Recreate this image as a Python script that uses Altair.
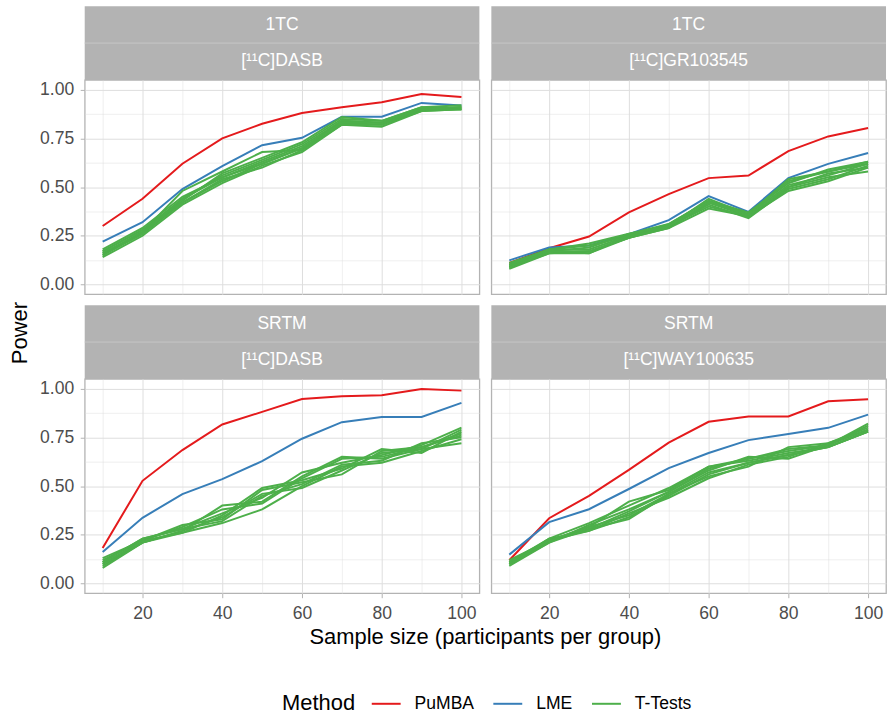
import altair as alt
import pandas as pd

# ---------------- data ----------------
N = [10, 20, 30, 40, 50, 60, 70, 80, 90, 100]
MODELS = ["1TC", "1TC", "SRTM", "SRTM"]
TRACERS = ["[¹¹C]DASB", "[¹¹C]GR103545", "[¹¹C]DASB", "[¹¹C]WAY100635"]
METHODS = ["PuMBA", "LME", "T-Tests"]
COLORS = ["#E41A1C", "#377EB8", "#4DAF4A"]

pumba_A = [0.30, 0.44, 0.62, 0.75, 0.825, 0.88, 0.91, 0.935, 0.978, 0.963]
lme_A = [0.22, 0.32, 0.49, 0.607, 0.715, 0.753, 0.861, 0.861, 0.932, 0.919]
ttest_A = [
    [0.15, 0.27, 0.48, 0.58, 0.68, 0.69, 0.84, 0.83, 0.90, 0.91],
    [0.17, 0.28, 0.44, 0.56, 0.64, 0.72, 0.85, 0.84, 0.91, 0.90],
    [0.16, 0.26, 0.42, 0.53, 0.62, 0.70, 0.83, 0.82, 0.89, 0.90],
    [0.18, 0.29, 0.45, 0.55, 0.63, 0.71, 0.84, 0.83, 0.90, 0.91],
    [0.14, 0.25, 0.41, 0.52, 0.61, 0.68, 0.82, 0.81, 0.89, 0.90],
    [0.16, 0.27, 0.43, 0.57, 0.65, 0.73, 0.86, 0.84, 0.91, 0.92],
    [0.17, 0.28, 0.42, 0.54, 0.60, 0.69, 0.82, 0.82, 0.90, 0.90],
    [0.15, 0.26, 0.44, 0.55, 0.62, 0.70, 0.83, 0.83, 0.90, 0.91],
]

pumba_B = [0.11, 0.186, 0.246, 0.37, 0.464, 0.546, 0.559, 0.685, 0.76, 0.803]
lme_B = [0.124, 0.19, 0.20, 0.258, 0.33, 0.454, 0.373, 0.546, 0.619, 0.675]
ttest_B = [
    [0.09, 0.17, 0.16, 0.24, 0.29, 0.42, 0.35, 0.48, 0.53, 0.60],
    [0.10, 0.18, 0.20, 0.25, 0.30, 0.44, 0.36, 0.54, 0.58, 0.62],
    [0.08, 0.16, 0.17, 0.24, 0.29, 0.39, 0.35, 0.50, 0.55, 0.58],
    [0.10, 0.17, 0.19, 0.26, 0.31, 0.43, 0.37, 0.52, 0.59, 0.63],
    [0.09, 0.16, 0.16, 0.25, 0.30, 0.41, 0.34, 0.49, 0.54, 0.61],
    [0.11, 0.18, 0.18, 0.25, 0.31, 0.43, 0.36, 0.51, 0.56, 0.62],
    [0.09, 0.17, 0.17, 0.24, 0.30, 0.40, 0.35, 0.50, 0.57, 0.60],
    [0.10, 0.18, 0.21, 0.26, 0.30, 0.42, 0.36, 0.53, 0.58, 0.63],
]

pumba_C = [0.182, 0.527, 0.685, 0.816, 0.881, 0.947, 0.961, 0.966, 0.998, 0.99]
lme_C = [0.162, 0.337, 0.459, 0.536, 0.628, 0.743, 0.828, 0.854, 0.855, 0.927]
ttest_C = [
    [0.09, 0.21, 0.27, 0.40, 0.42, 0.55, 0.65, 0.64, 0.69, 0.79],
    [0.12, 0.22, 0.30, 0.33, 0.48, 0.52, 0.56, 0.68, 0.70, 0.77],
    [0.10, 0.21, 0.26, 0.31, 0.38, 0.50, 0.60, 0.62, 0.68, 0.74],
    [0.11, 0.23, 0.28, 0.36, 0.44, 0.57, 0.62, 0.66, 0.71, 0.80],
    [0.08, 0.21, 0.27, 0.34, 0.46, 0.49, 0.58, 0.67, 0.69, 0.72],
    [0.13, 0.22, 0.29, 0.38, 0.41, 0.54, 0.64, 0.65, 0.70, 0.76],
    [0.10, 0.22, 0.26, 0.35, 0.49, 0.53, 0.59, 0.69, 0.67, 0.78],
    [0.11, 0.23, 0.28, 0.32, 0.45, 0.51, 0.61, 0.63, 0.72, 0.75],
]

pumba_D = [0.119, 0.335, 0.45, 0.583, 0.723, 0.83, 0.857, 0.857, 0.935, 0.946]
lme_D = [0.148, 0.315, 0.381, 0.485, 0.592, 0.67, 0.736, 0.767, 0.799, 0.867]
ttest_D = [
    [0.10, 0.22, 0.29, 0.42, 0.48, 0.60, 0.64, 0.69, 0.71, 0.81],
    [0.11, 0.23, 0.27, 0.34, 0.45, 0.56, 0.62, 0.66, 0.70, 0.78],
    [0.09, 0.21, 0.30, 0.38, 0.47, 0.58, 0.65, 0.64, 0.71, 0.79],
    [0.12, 0.22, 0.28, 0.33, 0.46, 0.55, 0.60, 0.70, 0.72, 0.80],
    [0.10, 0.23, 0.31, 0.40, 0.49, 0.60, 0.63, 0.67, 0.70, 0.78],
    [0.11, 0.22, 0.27, 0.36, 0.44, 0.54, 0.61, 0.65, 0.72, 0.79],
    [0.10, 0.21, 0.28, 0.37, 0.47, 0.59, 0.64, 0.68, 0.71, 0.82],
    [0.11, 0.22, 0.29, 0.35, 0.46, 0.57, 0.62, 0.66, 0.70, 0.78],
]

PUMBA = [pumba_A, pumba_B, pumba_C, pumba_D]
LME = [lme_A, lme_B, lme_C, lme_D]
TTEST = [ttest_A, ttest_B, ttest_C, ttest_D]

X_BREAKS = [10, 20, 30, 40, 50, 60, 70, 80, 90, 100]
Y_BREAKS = [0, 0.125, 0.25, 0.375, 0.5, 0.625, 0.75, 0.875, 1.0]

# ---------------- style ----------------
W, H = 396, 215
FONT = "Liberation Sans"
STRIP = 37


def panel(i, show_x, show_y, extra=None):
    rows = []
    for n, v in zip(N, PUMBA[i]):
        rows.append({"method": "PuMBA", "run": "p", "n": n, "power": v})
    for n, v in zip(N, LME[i]):
        rows.append({"method": "LME", "run": "l", "n": n, "power": v})
    for k, series in enumerate(TTEST[i]):
        for n, v in zip(N, series):
            rows.append({"method": "T-Tests", "run": f"t{k}", "n": n, "power": v})
    df = pd.DataFrame(rows)

    xaxis = alt.Axis(
        values=X_BREAKS, title=None, grid=True, domain=False,
        labels=show_x, ticks=show_x, labelOverlap=False,
        labelExpr="datum.value % 20 == 0 ? datum.label : ''",
        tickOpacity={"condition": {"test": "datum.value % 20 == 0", "value": 1}, "value": 0},
        gridWidth={"condition": {"test": "datum.value % 20 == 0", "value": 1}, "value": 0.5},
        tickSize=4.5, labelPadding=7,
    )
    yaxis = alt.Axis(
        values=Y_BREAKS, title=None, grid=True, domain=False,
        labels=show_y, ticks=show_y, labelOverlap=False,
        labelExpr="datum.value % 0.25 == 0 ? format(datum.value, '.2f') : ''",
        tickOpacity={"condition": {"test": "datum.value % 0.25 == 0", "value": 1}, "value": 0},
        gridWidth={"condition": {"test": "datum.value % 0.25 == 0", "value": 1}, "value": 0.5},
        tickSize=4.5, labelPadding=6.5,
    )
    legend = alt.Legend(
        title="Method", orient="none", legendX=198, legendY=610,
        direction="horizontal", titleOrient="left",
        titleBaseline="line-top", titleLineHeight=8,
        titleFontSize=22, titleFont=FONT, titleFontWeight="normal", titleColor="black",
        labelFontSize=17.6, labelFont=FONT, labelColor="black",
        symbolType="stroke", symbolStrokeWidth=2, symbolSize=841,
        labelOffset=13, columnPadding=15, titlePadding=15,
    )
    enc = dict(
        x=alt.X("n:Q", scale=alt.Scale(domain=[5.5, 104.5], nice=False, zero=False), axis=xaxis),
        y=alt.Y("power:Q", scale=alt.Scale(domain=[-0.05, 1.05], nice=False, zero=False), axis=yaxis),
        color=alt.Color("method:N", scale=alt.Scale(domain=METHODS, range=COLORS), legend=legend),
        detail="run:N",
    )
    base = alt.Chart(df)
    lines = [
        base.transform_filter(alt.datum.method == m).mark_line(strokeWidth=2).encode(**enc)
        for m in METHODS
    ]

    lab = pd.DataFrame({"label": [MODELS[i]]})
    lab2 = pd.DataFrame({"label": [TRACERS[i]]})
    strip1 = alt.Chart(lab).mark_rect(color="#B3B3B3").encode(
        x=alt.value(0), x2=alt.value(W), y=alt.value(-2 * STRIP), y2=alt.value(-STRIP))
    strip2 = alt.Chart(lab2).mark_rect(color="#B3B3B3").encode(
        x=alt.value(0), x2=alt.value(W), y=alt.value(-STRIP), y2=alt.value(0))
    sep = alt.Chart(lab).mark_rule(color="#C6C6C6", strokeWidth=1).encode(
        x=alt.value(0), x2=alt.value(W), y=alt.value(-STRIP))
    txt1 = alt.Chart(lab).mark_text(color="white", fontSize=17.6, font=FONT, baseline="middle").encode(
        text="label:N", x=alt.value(W / 2), y=alt.value(-1.5 * STRIP))
    txt2 = alt.Chart(lab2).mark_text(color="white", fontSize=17.6, font=FONT, baseline="middle").encode(
        text="label:N", x=alt.value(W / 2), y=alt.value(-0.5 * STRIP))
    layers = [strip1, strip2, sep, txt1, txt2] + lines
    if extra is not None:
        layers += extra
    return alt.layer(*layers).properties(width=W, height=H)


ytitle = alt.Chart(pd.DataFrame({"t": ["Power"]})).mark_text(
    angle=270, fontSize=22, font=FONT, color="black", align="center", baseline="alphabetic"
).encode(text="t:N", x=alt.value(-57.5), y=alt.value(254))

xtitle = alt.Chart(pd.DataFrame({"t": ["Sample size (participants per group)"]})).mark_text(
    fontSize=22, font=FONT, color="black", align="center", baseline="alphabetic"
).encode(text="t:N", x=alt.value(W + 6), y=alt.value(H + 51))

pA = panel(0, False, True, [ytitle])
pB = panel(1, False, False)
pC = panel(2, True, True, [xtitle])
pD = panel(3, True, False)

chart = alt.concat(
    pA, pB, pC, pD, columns=2, bounds="flush",
    spacing={"row": 85, "column": 12},
).resolve_scale(
    x="independent", y="independent", color="shared"
).properties(
    padding={"left": 8, "top": 4, "right": 2, "bottom": 4},
    background="white",
).configure_view(
    stroke="#B3B3B3", strokeWidth=1.3
).configure_axis(
    labelFont=FONT, labelFontSize=17.6, labelColor="#4D4D4D",
    tickColor="#B3B3B3", tickWidth=1, gridColor="#DEDEDE",
)

chart.save("out.html", embed_options={"renderer": "svg", "actions": False})
